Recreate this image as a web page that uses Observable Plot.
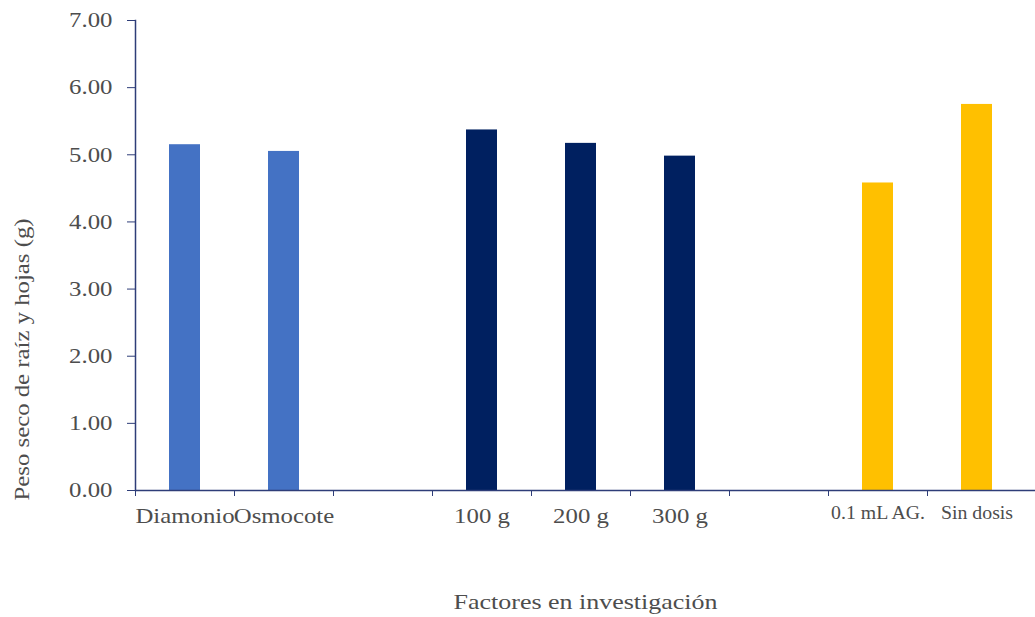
<!DOCTYPE html>
<html>
<head>
<meta charset="utf-8">
<script src="https://cdn.jsdelivr.net/npm/d3@7"></script>
<script src="https://cdn.jsdelivr.net/npm/@observablehq/plot@0.6"></script>
<style>
  html, body { margin: 0; padding: 0; background: #fff; }
  #chart svg { display: block; }
  #chart svg, #chart svg text { font-family: "Times New Roman", "Liberation Serif", Tinos, "Nimbus Roman", Times, serif !important; }
</style>
</head>
<body>
<div id="chart"></div>
<script>
// ---- data ----
const categories = ["Diamonio", "Osmocote", "gap1", "100 g", "200 g", "300 g", "gap2", "0.1 mL AG.", "Sin dosis"];
const tickLabels = ["Diamonio", "Osmocote", "", "100 g", "200 g", "300 g", "", "0.1 mL AG.", "Sin dosis"];
const values = [5.15, 5.05, null, 5.37, 5.17, 4.98, null, 4.58, 5.75];
const groups = ["fuente", "fuente", null, "dosis", "dosis", "dosis", null, "ag", "ag"];
const groupNames = ["fuente", "dosis", "ag"];
const groupColors = ["#4472C4", "#002060", "#FFC000"];
const yTicks = [0, 1, 2, 3, 4, 5, 6, 7];
const yLabel = "Peso seco de raíz y hojas (g)";
const xLabel = "Factores en investigación";
const smallLabels = ["0.1 mL AG.", "Sin dosis"];

const data = categories
  .map((c, i) => ({cat: c, value: values[i], group: groups[i]}))
  .filter(d => d.value != null);
const labelOf = new Map(categories.map((c, i) => [c, tickLabels[i]]));

const W = 1035, H = 617, mL = 135, mR = 0, mT = 20, mB = 127;
const xEnd = 1026;
const bw = (xEnd - mL) / categories.length;
const textColor = "#4d4d4d";
const axisColor = "#2E3D78";

const chart = Plot.plot({
  width: W,
  height: H,
  marginLeft: mL,
  marginRight: mR,
  marginTop: mT,
  marginBottom: mB,
  style: {color: textColor, background: "#fff"},
  x: {domain: categories, padding: 0, range: [mL, xEnd], axis: null},
  y: {domain: [0, 7], axis: null},
  color: {domain: groupNames, range: groupColors},
  marks: [
    Plot.barY(data, {x: "cat", y: "value", fill: "group", insetLeft: 34, insetRight: 34}),
    // y axis
    Plot.axisY({ticks: yTicks, tickFormat: d3.format(".2f"), tickSize: 8, tickPadding: 15,
      fontSize: 21, stroke: axisColor, fill: textColor, label: null}),
    Plot.frame({anchor: "left", stroke: axisColor, strokeWidth: 1.5}),
    Plot.ruleY([0], {stroke: axisColor, strokeWidth: 1.5}),
    // x boundary ticks
    Plot.axisX({ticks: categories, tickFormat: () => "", tickSize: 6, dx: -bw / 2, stroke: axisColor, label: null}),
    // x tick labels
    Plot.axisX({ticks: categories.filter(c => !smallLabels.includes(c)), tickFormat: c => labelOf.get(c),
      tickSize: 0, tickPadding: 18, fontSize: 21, fill: textColor, label: null}),
    Plot.axisX({ticks: smallLabels, tickFormat: c => labelOf.get(c),
      tickSize: 0, tickPadding: 16, fontSize: 18, fill: textColor, label: null}),
    // axis titles
    Plot.text([yLabel], {frameAnchor: "bottom-left", text: d => d, rotate: -90, textAnchor: "start",
      lineAnchor: "middle", dx: -113, dy: 10, fontSize: 21, fill: textColor}),
    Plot.text([xLabel], {frameAnchor: "bottom", text: d => d, textAnchor: "middle",
      lineAnchor: "middle", dy: 111, fontSize: 22, fill: textColor})
  ]
});
document.getElementById("chart").appendChild(chart);

// the reference glyphs are horizontally stretched; mimic with textLength
d3.select(chart).selectAll("text").each(function() {
  const t = this;
  const len = t.getComputedTextLength();
  if (!len) return;
  const f = (t.textContent === "0.1 mL AG." || t.textContent === "Sin dosis") ? 1.1 : 1.18;
  t.setAttribute("textLength", (len * f).toFixed(1));
  t.setAttribute("lengthAdjust", "spacingAndGlyphs");
});
</script>
</body>
</html>
